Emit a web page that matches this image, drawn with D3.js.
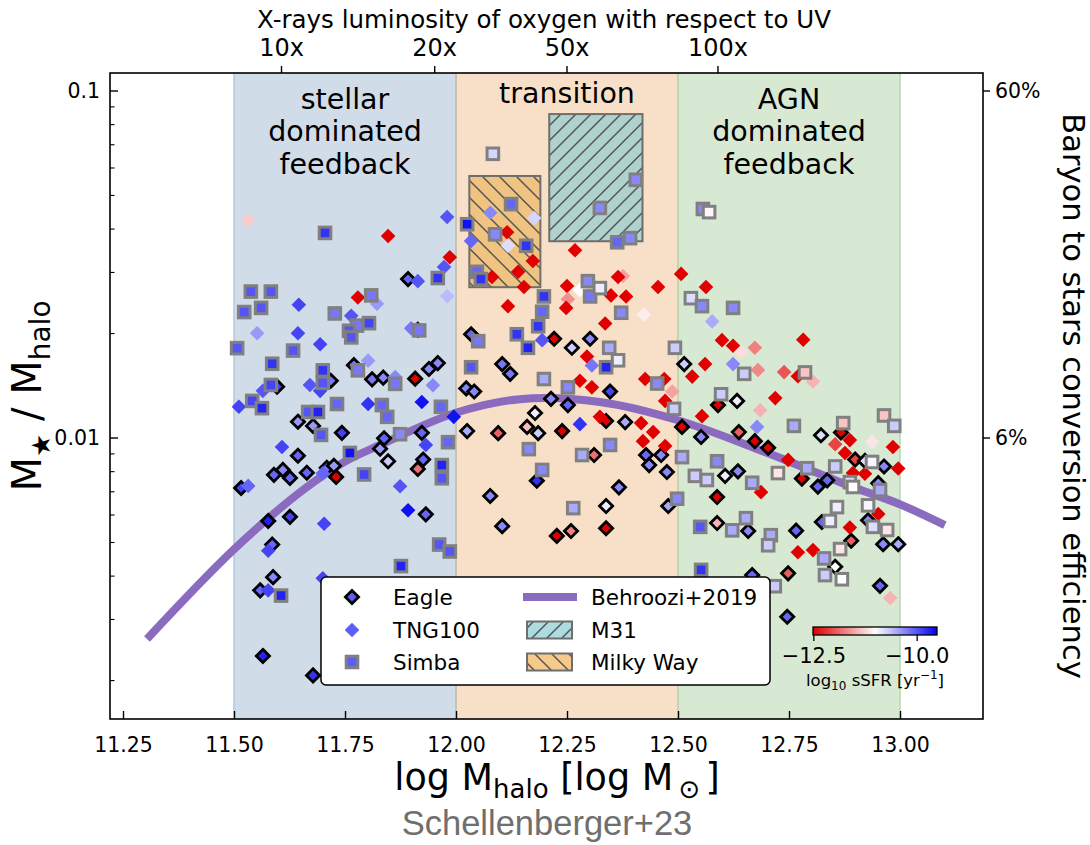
<!DOCTYPE html>
<html>
<head>
<meta charset="utf-8">
<script src="https://cdn.jsdelivr.net/npm/d3@7"></script>
<style>
  html, body { margin: 0; padding: 0; background: #fff; }
  svg text { font-family: "DejaVu Sans", sans-serif; fill: #000; }
</style>
</head>
<body>
<svg id="chart" width="1090" height="845"></svg>
<script>
// ---------------- data ----------------
// feedback regimes in log halo mass
const regimeEdges = [11.5, 12.0, 12.5, 13.0];
const regimeFills = ["#d1dce9", "#f8e0c8", "#d7e9d3"];
const regimeStrokes = ["#b7cade", "#cdbfa6", "#bcd9b3"];

// top axis: X-ray oxygen luminosity relative to UV
const topTickMhalo = [11.607, 11.952, 12.25, 12.59];
const topTickLabels = ["10x", "20x", "50x", "100x"];

// Behroozi+2019 stellar-to-halo mass relation: [log Mhalo, log10(M*/Mhalo)]
const behroozi = [
  [11.304,-2.579],[11.498,-2.323],[11.649,-2.156],[11.748,-2.069],[11.829,-2.020],
  [11.998,-1.928],[12.144,-1.888],[12.324,-1.896],[12.498,-1.948],[12.685,-2.035],
  [12.887,-2.138],[12.998,-2.190],[13.101,-2.251]
];

// observed galaxies: halo-mass range and M*/Mhalo range
const m31Mhalo = [12.21, 12.42];
const m31Ratio = [0.0369, 0.0858];
const mwMhalo = [12.03, 12.19];
const mwRatio = [0.0272, 0.0569];

// simulated galaxies: [log Mhalo, log10(M*/Mhalo), log10 sSFR]
const eagle = [
  [11.892,-1.542,-10.1],[11.597,-1.852,-9.9],[11.718,-1.835,-10.2],[11.770,-1.790,-10.2],
  [11.811,-1.831,-10.2],[11.836,-1.826,-10.3],[11.908,-1.829,-12.6],[11.644,-1.953,-10.4],
  [11.678,-1.965,-10.4],[11.743,-1.985,-9.9],[11.838,-2.001,-10.1],[11.829,-2.031,-10.4],
  [11.644,-2.051,-10.1],[11.847,-2.067,-10.7],[11.590,-2.106,-10.1],[11.610,-2.092,-10.3],
  [11.626,-2.115,-10.1],[11.664,-2.100,-10.1],[11.709,-2.086,-10.2],[11.725,-2.080,-10.4],
  [11.730,-2.112,-12.6],[11.516,-2.144,-9.9],[11.577,-2.239,-9.7],[11.626,-2.227,-9.9],
  [11.586,-2.307,-10.1],[11.588,-2.401,-10.3],[11.559,-2.439,-10.1],[11.565,-2.628,-9.7],
  [11.678,-2.684,-9.8],[11.914,-1.688,-10.1],[12.034,-1.701,-10.1],[12.221,-1.714,-12.6],
  [12.261,-1.740,-10.7],[12.302,-1.714,-10.3],[11.959,-1.784,-10.3],[11.939,-1.801,-10.3],
  [12.023,-1.857,-10.3],[12.041,-1.866,-10.3],[12.104,-1.787,-10.2],[12.122,-1.815,-10.2],
  [12.214,-1.887,-10.3],[12.252,-1.905,-10.1],[12.178,-1.928,-10.9],[12.025,-1.980,-10.5],
  [12.095,-1.986,-11.95],[12.160,-1.968,-11.4],[12.185,-1.986,-10.7],[12.239,-1.980,-12.6],
  [11.923,-1.985,-10.1],[11.926,-2.062,-10.1],[11.914,-2.089,-11.85],[11.932,-2.220,-10.1],
  [12.077,-2.167,-10.3],[12.104,-2.254,-10.3],[12.182,-2.123,-9.8],[12.227,-2.282,-12.6],
  [12.259,-2.268,-11.75],[12.347,-1.866,-9.9],[12.514,-1.787,-10.7],[12.590,-1.905,-12.6],
  [12.633,-1.893,-10.9],[12.381,-1.954,-10.5],[12.338,-1.951,-12.6],[12.509,-1.968,-12.6],
  [12.552,-1.997,-10.3],[12.637,-1.983,-11.95],[12.673,-2.009,-12.6],[12.703,-2.028,-12.6],
  [12.311,-2.049,-11.85],[12.428,-2.049,-10.1],[12.435,-2.078,-10.3],[12.462,-2.049,-10.3],
  [12.475,-2.098,-10.3],[12.606,-2.109,-10.9],[12.635,-2.096,-10.3],[12.367,-2.142,-10.3],
  [12.338,-2.196,-10.9],[12.338,-2.260,-12.6],[12.478,-2.196,-10.5],[12.588,-2.170,-12.6],
  [12.588,-2.245,-11.45],[12.658,-2.268,-10.3],[12.667,-2.395,-10.1],[12.822,-1.992,-10.8],
  [12.867,-1.984,-12.6],[12.779,-2.117,-12.6],[12.815,-2.140,-10.1],[12.836,-2.122,-10.1],
  [12.899,-2.062,-12.1],[12.921,-2.066,-10.8],[12.964,-2.082,-10.3],[12.951,-2.130,-10.3],
  [12.824,-2.242,-10.1],[12.928,-2.237,-10.3],[12.766,-2.267,-10.1],[12.890,-2.296,-11.95],
  [12.962,-2.306,-10.3],[12.996,-2.306,-10.5],[12.854,-2.371,-11.0],[12.748,-2.390,-11.95],
  [12.955,-2.426,-10.1],[12.746,-2.515,-10.1]
];

const tng100 = [
  [11.532,-1.372,-11.3],[11.847,-1.418,-12.6],[11.980,-1.363,-10.0],[12.077,-1.351,-10.3],
  [12.176,-1.366,-10.75],[12.115,-1.407,-12.6],[12.034,-1.432,-10.1],[12.117,-1.446,-10.8],
  [11.986,-1.479,-12.6],[12.268,-1.459,-12.6],[12.173,-1.490,-12.6],[11.646,-1.616,-9.9],
  [11.552,-1.698,-10.4],[11.644,-1.698,-9.9],[11.694,-1.730,-9.9],[11.779,-1.595,-12.6],
  [11.822,-1.613,-10.4],[11.764,-1.648,-10.0],[11.899,-1.684,-10.2],[11.565,-1.864,-10.0],
  [11.671,-1.847,-10.0],[11.694,-1.864,-9.9],[11.802,-1.777,-10.4],[11.863,-1.824,-10.3],
  [11.511,-1.910,-9.9],[11.802,-1.902,-9.8],[11.608,-2.026,-9.9],[11.700,-2.102,-10.1],
  [11.532,-2.138,-10.1],[11.874,-2.139,-10.0],[11.892,-2.208,-9.6],[11.703,-2.247,-9.9],
  [11.577,-2.325,-9.9],[11.577,-2.439,-9.9],[11.700,-2.404,-9.9],[11.973,-1.507,-10.0],
  [11.914,-1.548,-10.0],[11.980,-1.591,-10.6],[12.081,-1.536,-12.6],[12.140,-1.521,-12.6],
  [12.153,-1.565,-12.6],[12.117,-1.620,-12.6],[12.250,-1.562,-12.6],[12.252,-1.600,-11.65],
  [12.248,-1.625,-12.6],[12.279,-1.573,-11.0],[12.194,-1.718,-10.0],[12.295,-1.765,-12.6],
  [11.948,-1.848,-10.3],[12.279,-1.835,-12.6],[12.306,-1.854,-12.6],[11.923,-1.896,-9.6],
  [11.995,-1.939,-9.6],[12.279,-1.960,-9.8],[11.932,-2.020,-9.9],[12.376,-1.533,-11.55],
  [12.365,-1.536,-12.6],[12.349,-1.589,-12.6],[12.383,-1.592,-12.6],[12.455,-1.565,-12.6],
  [12.423,-1.644,-11.1],[12.507,-1.527,-12.6],[12.336,-1.670,-12.6],[12.306,-1.791,-10.2],
  [12.426,-1.830,-12.6],[12.469,-1.830,-12.6],[12.487,-1.866,-11.55],[12.471,-1.893,-12.6],
  [12.532,-1.823,-12.6],[12.561,-1.787,-12.6],[12.563,-1.565,-12.6],[12.577,-1.664,-10.5],
  [12.599,-1.718,-12.6],[12.624,-1.734,-12.6],[12.642,-1.753,-11.2],[12.673,-1.740,-11.75],
  [12.680,-1.804,-11.7],[12.624,-1.787,-10.3],[12.685,-1.920,-11.45],[12.719,-1.885,-12.6],
  [12.554,-1.937,-12.6],[12.324,-1.939,-12.6],[12.417,-1.957,-12.6],[12.444,-1.983,-12.6],
  [12.421,-2.009,-12.6],[12.471,-2.023,-12.6],[12.678,-1.968,-10.3],[12.687,-2.156,-12.6],
  [12.782,-1.717,-12.6],[12.739,-1.810,-12.0],[12.770,-1.822,-12.6],[12.804,-1.837,-11.45],
  [12.887,-2.006,-12.6],[12.854,-2.018,-12.1],[12.876,-2.043,-12.6],[12.937,-2.011,-11.15],
  [12.984,-2.026,-12.6],[12.748,-2.063,-12.6],[12.996,-2.088,-12.6],[12.894,-2.101,-12.6],
  [12.921,-2.103,-12.6],[12.951,-2.219,-12.6],[12.887,-2.258,-12.6],[12.770,-2.329,-12.6],
  [12.804,-2.323,-12.6],[12.978,-2.461,-11.45]
];

const simba = [
  [11.705,-1.409,-9.8],[12.025,-1.384,-9.6],[12.083,-1.181,-10.75],[12.124,-1.326,-10.1],
  [12.088,-1.413,-10.3],[12.158,-1.446,-9.8],[12.324,-1.337,-10.3],[12.405,-1.256,-10.3],
  [12.363,-1.436,-10.1],[12.392,-1.424,-10.3],[12.556,-1.340,-10.3],[12.570,-1.349,-11.05],
  [11.538,-1.578,-10.0],[11.583,-1.578,-10.0],[11.523,-1.637,-10.0],[11.561,-1.625,-10.0],
  [11.507,-1.741,-10.0],[11.633,-1.748,-10.0],[11.727,-1.641,-10.2],[11.809,-1.589,-10.2],
  [11.777,-1.676,-10.2],[11.759,-1.691,-10.0],[11.804,-1.669,-9.9],[11.764,-1.710,-10.0],
  [11.586,-1.786,-9.8],[11.583,-1.847,-9.9],[11.700,-1.805,-9.8],[11.700,-1.841,-10.0],
  [11.779,-1.805,-10.2],[11.863,-1.844,-10.2],[11.541,-1.893,-9.9],[11.563,-1.914,-9.7],
  [11.833,-1.905,-10.1],[11.845,-1.939,-10.1],[11.732,-1.902,-10.1],[11.667,-1.925,-10.0],
  [11.689,-1.925,-9.7],[11.696,-1.991,-10.0],[11.874,-1.989,-10.3],[11.761,-2.043,-9.6],
  [11.793,-2.105,-9.9],[11.606,-2.454,-9.7],[11.876,-2.369,-9.7],[11.959,-1.539,-9.8],
  [12.047,-1.521,-10.1],[12.056,-1.542,-9.8],[12.297,-1.548,-10.3],[12.302,-1.592,-10.2],
  [12.198,-1.592,-9.8],[12.194,-1.636,-10.1],[12.185,-1.678,-9.8],[12.137,-1.701,-9.8],
  [12.162,-1.740,-9.7],[12.050,-1.721,-10.2],[11.917,-1.690,-10.2],[12.034,-1.796,-10.0],
  [12.198,-1.830,-10.5],[12.252,-1.854,-10.3],[11.966,-1.910,-10.1],[11.982,-2.012,-10.1],
  [12.164,-2.032,-10.3],[12.284,-2.049,-10.5],[11.968,-2.078,-9.7],[11.968,-2.116,-10.0],
  [11.962,-2.307,-10.0],[11.986,-2.327,-10.0],[12.194,-2.092,-10.3],[12.264,-2.202,-10.5],
  [12.324,-1.568,-10.9],[12.372,-1.639,-10.3],[12.345,-1.740,-10.5],[12.365,-1.776,-10.9],
  [12.338,-1.796,-9.7],[12.453,-1.843,-10.3],[12.491,-1.916,-10.7],[12.493,-1.740,-10.7],
  [12.529,-1.597,-10.8],[12.554,-1.620,-10.3],[12.624,-1.625,-10.3],[12.649,-1.815,-10.7],
  [12.597,-1.874,-10.7],[12.347,-2.020,-10.3],[12.509,-2.055,-10.5],[12.588,-2.067,-10.3],
  [12.538,-2.109,-10.7],[12.565,-2.121,-10.7],[12.667,-2.129,-10.5],[12.498,-2.175,-10.3],
  [12.550,-2.256,-10.0],[12.622,-2.266,-10.5],[12.653,-2.231,-10.5],[12.709,-2.280,-10.5],
  [12.703,-2.309,-10.7],[12.552,-2.380,-9.8],[12.718,-2.427,-10.7],[12.786,-1.811,-11.35],
  [12.761,-1.965,-10.5],[12.872,-1.957,-11.35],[12.964,-1.935,-11.35],[12.987,-1.965,-10.7],
  [12.725,-2.101,-11.15],[12.791,-2.087,-10.5],[12.854,-2.082,-10.7],[12.937,-2.069,-10.95],
  [12.887,-2.127,-10.8],[12.894,-2.141,-11.0],[12.955,-2.150,-10.5],[12.928,-2.194,-10.95],
  [12.858,-2.199,-10.9],[12.842,-2.239,-10.9],[12.939,-2.256,-10.8],[12.971,-2.265,-11.15],
  [12.865,-2.320,-11.15],[12.829,-2.347,-10.5],[12.831,-2.395,-10.7],[12.869,-2.407,-11.0]
];

// colour bar ticks (log10 sSFR)
const sSFRTicks = [-12.5, -10.0];
// left / right axis major ticks
const yMajorTicks = [0.01, 0.1];
const yRightLabels = ["6%", "60%"];

// ---------------- layout ----------------
const svg = d3.select("#chart");
const F = { left: 110, right: 983, top: 73, bottom: 719 };
const x = d3.scaleLinear().domain([11.2207, 13.1869]).range([F.left, F.right]);
const y = d3.scaleLog().domain([0.001550, 0.11268]).range([F.bottom, F.top]);
const color = d3.scaleLinear().domain([-12.5, -11, -9.5])
  .range(["#e00000", "#ffffff", "#0000f0"]).clamp(true);
const ratio = v => Math.pow(10, v);
const midY = (F.top + F.bottom) / 2;

const defs = svg.append("defs");
defs.append("clipPath").attr("id", "plotclip").append("rect")
  .attr("x", F.left).attr("y", F.top).attr("width", F.right - F.left).attr("height", F.bottom - F.top);

function hatch(id, bg, dir, size) {
  const p = defs.append("pattern").attr("id", id).attr("patternUnits", "userSpaceOnUse")
    .attr("width", size).attr("height", size);
  p.append("rect").attr("width", size).attr("height", size).attr("fill", bg);
  const s = size;
  const d = dir === "/"
    ? `M0,${s}L${s},0M${-s/4},${s/4}L${s/4},${-s/4}M${3*s/4},${5*s/4}L${5*s/4},${3*s/4}`
    : `M0,0L${s},${s}M${-s/4},${3*s/4}L${s/4},${5*s/4}M${3*s/4},${-s/4}L${5*s/4},${s/4}`;
  p.append("path").attr("d", d).attr("stroke", "#555").attr("stroke-width", 1.5);
}
hatch("hatchM31", "#b0d2ce", "/", 15);
hatch("hatchMW", "#f0c480", "\\", 17);
hatch("hatchM31Leg", "#acdbe0", "/", 15);
hatch("hatchMWLeg", "#f6ca8a", "\\", 17);

const plot = svg.append("g").attr("clip-path", "url(#plotclip)");

// regime bands
regimeFills.forEach((c, i) => {
  plot.append("rect")
    .attr("x", x(regimeEdges[i])).attr("y", F.top)
    .attr("width", x(regimeEdges[i + 1]) - x(regimeEdges[i]))
    .attr("height", F.bottom - F.top).attr("fill", c);
});
regimeStrokes.forEach((c, i) => {
  [regimeEdges[i], regimeEdges[i + 1]].forEach(e => {
    plot.append("line").attr("x1", x(e)).attr("x2", x(e))
      .attr("y1", F.top).attr("y2", F.bottom)
      .attr("stroke", c).attr("stroke-width", 1.6);
  });
});

// observed galaxy boxes
function box(mh, r, fillId) {
  plot.append("rect")
    .attr("x", x(mh[0])).attr("y", y(r[1]))
    .attr("width", x(mh[1]) - x(mh[0])).attr("height", y(r[0]) - y(r[1]))
    .attr("fill", `url(#${fillId})`).attr("stroke", "#6e6e6e").attr("stroke-width", 2);
}
box(m31Mhalo, m31Ratio, "hatchM31");
box(mwMhalo, mwRatio, "hatchMW");

// regime annotations
const annot = svg.append("g").attr("font-size", 28.5).attr("text-anchor", "middle");
["stellar", "dominated", "feedback"].forEach((t, k) =>
  annot.append("text").attr("x", x(11.75)).attr("y", 109 + k * 32.3).text(t));
annot.append("text").attr("x", x(12.25)).attr("y", 103).text("transition");
["AGN", "dominated", "feedback"].forEach((t, k) =>
  annot.append("text").attr("x", x(12.75)).attr("y", 109 + k * 32.3).text(t));

// Behroozi+2019 relation
const purple = "#8a6bbf";
plot.append("path")
  .datum(behroozi)
  .attr("d", d3.line().x(d => x(d[0])).y(d => y(ratio(d[1]))).curve(d3.curveCatmullRom))
  .attr("fill", "none").attr("stroke", purple).attr("stroke-width", 8);

// markers
const diamond = h => `M0,${-h}L${h},0L0,${h}L${-h},0Z`;
plot.append("g").selectAll("path").data(eagle).join("path")
  .attr("d", diamond(6.6))
  .attr("transform", d => `translate(${x(d[0])},${y(ratio(d[1]))})`)
  .attr("fill", d => color(d[2])).attr("stroke", "#000").attr("stroke-width", 2.8);
plot.append("g").selectAll("path").data(tng100).join("path")
  .attr("d", diamond(7.3))
  .attr("transform", d => `translate(${x(d[0])},${y(ratio(d[1]))})`)
  .attr("fill", d => color(d[2]));
plot.append("g").selectAll("rect").data(simba).join("rect")
  .attr("x", d => x(d[0]) - 5.8).attr("y", d => y(ratio(d[1])) - 5.8)
  .attr("width", 11.6).attr("height", 11.6)
  .attr("fill", d => color(d[2])).attr("stroke", "#808080").attr("stroke-width", 3);

// frame
svg.append("rect").attr("x", F.left).attr("y", F.top)
  .attr("width", F.right - F.left).attr("height", F.bottom - F.top)
  .attr("fill", "none").attr("stroke", "#000").attr("stroke-width", 1.6);

// bottom axis (ticks inward)
const xAxis = d3.axisBottom(x).tickValues([11.25, 11.5, 11.75, 12.0, 12.25, 12.5, 12.75, 13.0])
  .tickFormat(d3.format(".2f")).tickSizeInner(-8).tickSizeOuter(0).tickPadding(22);
const gx = svg.append("g").attr("transform", `translate(0,${F.bottom})`).call(xAxis);
gx.select(".domain").remove();
gx.selectAll("line").attr("stroke", "#000").attr("stroke-width", 1.4);
gx.selectAll("text").attr("font-size", 20.5).attr("font-family", "DejaVu Sans").attr("dy", "0.55em");

// left axis (log, ticks inward)
const minor = [0.002, 0.003, 0.004, 0.005, 0.006, 0.007, 0.008, 0.009,
               0.02, 0.03, 0.04, 0.05, 0.06, 0.07, 0.08, 0.09];
const gyl = svg.append("g");
gyl.selectAll("line.maj").data(yMajorTicks).join("line").attr("class", "maj")
  .attr("x1", F.left).attr("x2", F.left + 8).attr("y1", d => y(d)).attr("y2", d => y(d))
  .attr("stroke", "#000").attr("stroke-width", 1.4);
gyl.selectAll("line.min").data(minor).join("line").attr("class", "min")
  .attr("x1", F.left).attr("x2", F.left + 4.5).attr("y1", d => y(d)).attr("y2", d => y(d))
  .attr("stroke", "#000").attr("stroke-width", 1.1);
gyl.selectAll("text").data(yMajorTicks).join("text")
  .attr("x", F.left - 10).attr("y", d => y(d) + 7).attr("text-anchor", "end")
  .attr("font-size", 20.5).text(d => d === 0.1 ? "0.1" : "0.01");

// right axis: baryon-to-stars conversion efficiency (ticks outward)
const gyr = svg.append("g");
gyr.selectAll("line").data(yMajorTicks).join("line")
  .attr("x1", F.right).attr("x2", F.right + 7).attr("y1", d => y(d)).attr("y2", d => y(d))
  .attr("stroke", "#000").attr("stroke-width", 1.4);
gyr.selectAll("text").data(yMajorTicks).join("text")
  .attr("x", F.right + 12).attr("y", d => y(d) + 7)
  .attr("font-size", 20.5).text((d, i) => yRightLabels[i]);

// top axis (ticks outward)
const gt = svg.append("g");
gt.selectAll("line").data(topTickMhalo).join("line")
  .attr("x1", d => x(d)).attr("x2", d => x(d)).attr("y1", F.top).attr("y2", F.top - 7)
  .attr("stroke", "#000").attr("stroke-width", 1.4);
gt.selectAll("text").data(topTickMhalo).join("text")
  .attr("x", d => x(d)).attr("y", 56).attr("text-anchor", "middle")
  .attr("font-size", 24).text((d, i) => topTickLabels[i]);
svg.append("text").attr("x", 544).attr("y", 28).attr("text-anchor", "middle")
  .attr("font-size", 24.5).text("X-rays luminosity of oxygen with respect to UV");

// axis labels
const xl = svg.append("text").attr("x", 557).attr("y", 790)
  .attr("text-anchor", "middle").attr("font-size", 36.5);
xl.append("tspan").text("log M");
xl.append("tspan").attr("font-size", 26).attr("dy", 8).text("halo");
xl.append("tspan").attr("dy", -8).text(" [log M");
xl.append("tspan").attr("font-size", 26).attr("dy", 8).text("\u2009\u2299\u2009");
xl.append("tspan").attr("dy", -8).text("]");

const yl = svg.append("text").attr("transform", `translate(41,${midY}) rotate(-90)`)
  .attr("text-anchor", "middle").attr("font-size", 40);
yl.append("tspan").text("M");
yl.append("tspan").attr("font-size", 26).attr("dy", 9).text("\u2605");
yl.append("tspan").attr("dy", -9).text(" / M");
yl.append("tspan").attr("font-size", 28).attr("dy", 9).text("halo");

svg.append("text").attr("transform", `translate(1063,${midY}) rotate(90)`)
  .attr("text-anchor", "middle").attr("font-size", 30.5)
  .text("Baryon to stars conversion efficiency");

// legend
const lg = svg.append("g");
lg.append("rect").attr("x", 321).attr("y", 577).attr("width", 449).attr("height", 108)
  .attr("rx", 5).attr("fill", "#fff").attr("stroke", "#000").attr("stroke-width", 1.5);
const rowY = [597, 630, 662];
lg.append("path").attr("d", diamond(6.6)).attr("transform", `translate(352,${rowY[0]})`)
  .attr("fill", color(-10.05)).attr("stroke", "#000").attr("stroke-width", 2.8);
lg.append("path").attr("d", diamond(7.3)).attr("transform", `translate(352,${rowY[1]})`)
  .attr("fill", color(-10.05));
lg.append("rect").attr("x", 352 - 5.8).attr("y", rowY[2] - 5.8).attr("width", 11.6).attr("height", 11.6)
  .attr("fill", color(-10.05)).attr("stroke", "#808080").attr("stroke-width", 3);
["Eagle", "TNG100", "Simba"].forEach((t, i) =>
  lg.append("text").attr("x", 393).attr("y", rowY[i] + 7.5).attr("font-size", 21.5).text(t));
lg.append("line").attr("x1", 523).attr("x2", 577).attr("y1", rowY[0]).attr("y2", rowY[0])
  .attr("stroke", purple).attr("stroke-width", 8);
lg.append("rect").attr("x", 527).attr("y", rowY[1] - 8.5).attr("width", 45).attr("height", 17)
  .attr("fill", "url(#hatchM31Leg)").attr("stroke", "#6e6e6e").attr("stroke-width", 2);
lg.append("rect").attr("x", 527).attr("y", rowY[2] - 8.5).attr("width", 45).attr("height", 17)
  .attr("fill", "url(#hatchMWLeg)").attr("stroke", "#6e6e6e").attr("stroke-width", 2);
["Behroozi+2019", "M31", "Milky Way"].forEach((t, i) =>
  lg.append("text").attr("x", 591).attr("y", rowY[i] + 7.5).attr("font-size", 21.5).text(t));

// colour bar
const cb = d3.scaleLinear().domain([-12.52, -9.52]).range([813, 937]);
const grad = defs.append("linearGradient").attr("id", "cbgrad");
d3.range(0, 1.0001, 0.1).forEach(t => {
  const v = -12.52 + 3 * t;
  grad.append("stop").attr("offset", t).attr("stop-color", color(v));
});
const cg = svg.append("g");
cg.append("rect").attr("x", cb(-12.52)).attr("y", 627).attr("width", cb(-9.52) - cb(-12.52))
  .attr("height", 8).attr("fill", "url(#cbgrad)").attr("stroke", "#000").attr("stroke-width", 1.3);
cg.selectAll("line").data(sSFRTicks).join("line")
  .attr("x1", d => cb(d)).attr("x2", d => cb(d)).attr("y1", 635).attr("y2", 641)
  .attr("stroke", "#000").attr("stroke-width", 1.3);
cg.selectAll("text.t").data(sSFRTicks).join("text").attr("class", "t")
  .attr("x", d => cb(d)).attr("y", 663).attr("text-anchor", "middle").attr("font-size", 21)
  .text(d => d3.format(".1f")(d).replace("-", "\u2212"));
const cl = cg.append("text").attr("x", 875).attr("y", 686).attr("text-anchor", "middle").attr("font-size", 16.5);
cl.append("tspan").text("log");
cl.append("tspan").attr("font-size", 12).attr("dy", 4).text("10");
cl.append("tspan").attr("dy", -4).text(" sSFR [yr");
cl.append("tspan").attr("font-size", 12).attr("dy", -7).text("\u22121");
cl.append("tspan").attr("dy", 7).text("]");

// source credit
svg.append("text").attr("x", 547).attr("y", 835).attr("text-anchor", "middle")
  .style("font-family", "'Liberation Sans', Arial, sans-serif")
  .attr("font-size", 34.5).style("fill", "#6f6f6f").text("Schellenberger+23");
</script>
</body>
</html>
